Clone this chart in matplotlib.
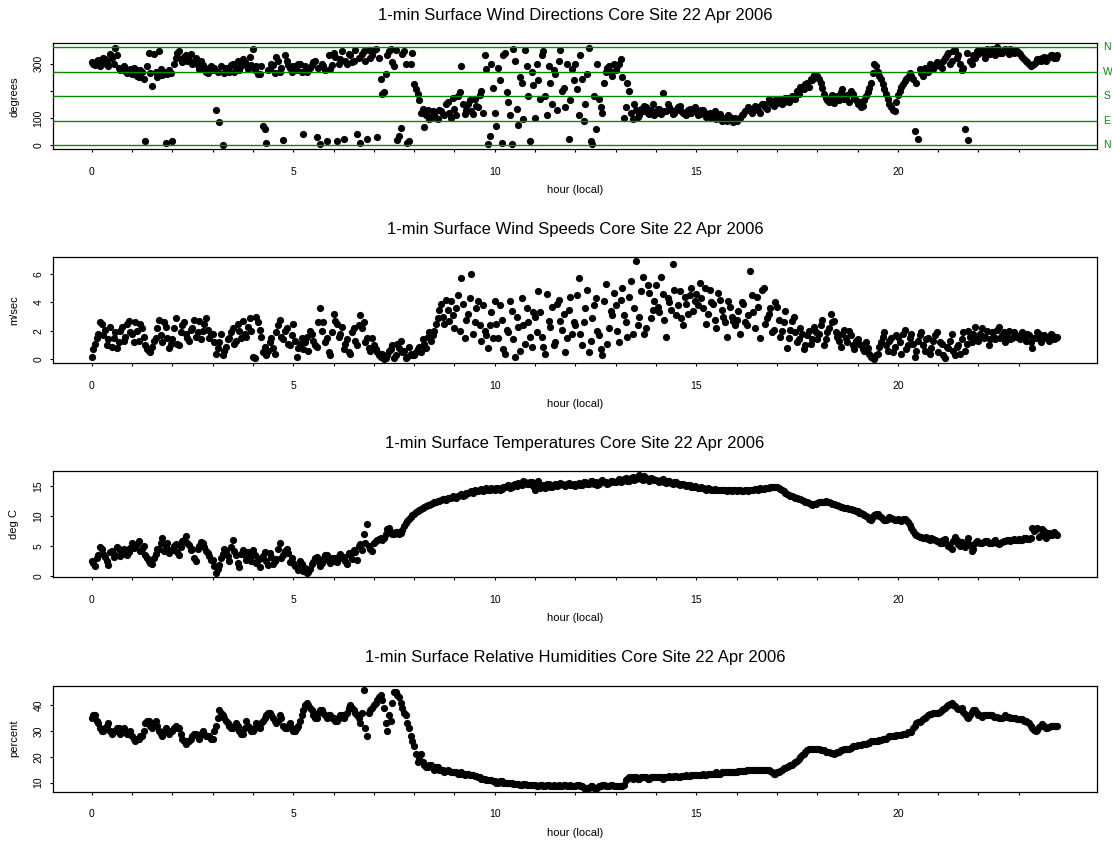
import numpy as np
import matplotlib
matplotlib.use('Agg')
import matplotlib.pyplot as plt

plt.rcParams['font.family'] = ['Liberation Sans', 'DejaVu Sans']

# values every 5 minutes, one row per hour (00:00 .. 23:55 local)
wind_dir = [
    305, 296, 312, 300, 316, 292, 322, 358, 285, 280, 272, 268,
    262, 280, 250, 270, 17, 340, 218, 270, 345, 258, 10, 275,
    15, 320, 345, 305, 330, 312, 300, 322, 280, 295, 270, 285,
    275, 130, 87, 0, 282, 268, 300, 285, 275, 318, 300, 325,
    355, 290, 262, 70, 8, 280, 295, 325, 270, 18, 310, 285,
    290, 275, 300, 41, 268, 285, 305, 30, 5, 290, 15, 280,
    340, 16, 315, 24, 300, 330, 310, 40, 10, 345, 25, 320,
    350, 30, 242, 196, 330, 355, 290, 20, 64, 345, 10, 300,
    225, 190, 120, 66, 130, 105, 118, 95, 125, 110, 160, 100,
    135, 180, 290, 115, 150, 125, 170, 140, 200, 330, 5, 300,
    120, 285, 10, 340, 160, 5, 310, 75, 230, 350, 180, 270,
    99, 240, 330, 180, 290, 150, 260, 310, 200, 140, 25, 280,
    300, 110, 245, 150, 356, 5, 60, 170, 120, 270, 290, 255,
    275, 300, 250, 140, 200, 95, 130, 110, 125, 140, 115, 150,
    120, 135, 193, 125, 140, 115, 130, 145, 120, 110, 135, 125,
    125, 115, 130, 105, 120, 110, 95, 115, 100, 90, 105, 85,
    90, 100, 115, 130, 135, 125, 140, 120, 150, 135, 160, 145,
    155, 170, 160, 175, 165, 180, 200, 215, 205, 230, 245, 258,
    255, 230, 190, 165, 175, 155, 180, 195, 170, 185, 200, 175,
    150, 140, 165, 195, 230, 300, 270, 245, 205, 170, 140, 125,
    185, 215, 235, 250, 255, 54, 24, 265, 285, 270, 295, 290,
    300, 285, 320, 340, 310, 350, 330, 275, 60, 20, 300, 320,
    335, 350, 320, 345, 355, 330, 345, 340, 355, 335, 345, 350,
    340, 325, 310, 300, 295, 305, 315, 320, 310, 325, 330, 322,
]
# the in-between readings (hh:02:30, hh:07:30, ...)
wind_dir_mid = [
    298, 310, 290, 320, 305, 335, 300, 330, 275, 290, 265, 280,
    285, 255, 275, 245, 290, 265, 335, 250, 280, 270, 260, 265,
    300, 340, 315, 325, 310, 335, 305, 295, 310, 280, 265, 290,
    285, 270, 290, 265, 280, 295, 270, 310, 290, 305, 280, 295,
    275, 260, 290, 60, 275, 300, 265, 310, 285, 330, 295, 270,
    280, 300, 270, 290, 275, 295, 310, 285, 300, 275, 330, 295,
    325, 300, 345, 310, 335, 305, 350, 320, 335, 310, 350, 330,
    355, 320, 188, 260, 345, 305, 350, 35, 335, 300, 15, 340,
    205, 165, 135, 110, 95, 125, 100, 130, 115, 150, 120, 175,
    110, 195, 150, 130, 165, 115, 145, 185, 120, 280, 35, 210,
    70, 240, 330, 195, 110, 355, 135, 250, 95, 290, 15, 220,
    300, 170, 345, 110, 230, 275, 130, 350, 210, 300, 165, 240,
    205, 330, 90, 260, 15, 180, 300, 140, 230, 285, 270, 300,
    290, 315, 100, 230, 120, 150, 105, 135, 145, 120, 130, 110,
    135, 115, 125, 150, 130, 120, 140, 125, 115, 130, 120, 140,
    110, 130, 120, 115, 100, 125, 110, 90, 95, 110, 95, 100,
    95, 110, 125, 140, 120, 145, 130, 150, 140, 170, 150, 165,
    165, 150, 175, 160, 180, 170, 190, 210, 225, 215, 240, 250,
    245, 210, 175, 160, 185, 170, 165, 205, 180, 160, 190, 165,
    160, 145, 180, 210, 265, 290, 255, 225, 190, 150, 130, 160,
    200, 225, 245, 265, 245, 230, 280, 255, 275, 300, 280, 305,
    290, 310, 330, 300, 345, 320, 300, 285, 340, 310, 330, 345,
    350, 340, 355, 335, 345, 360, 340, 350, 345, 355, 340, 345,
    335, 315, 305, 290, 300, 315, 310, 325, 315, 330, 320, 330,
]

wind_spd = [
    0.2, 1.1, 1.8, 2.5, 2.1, 1.4, 0.9, 1.9, 1.2, 2.3, 1.6, 2.7,
    1.8, 2.6, 1.3, 2.2, 1.0, 0.6, 0.9, 1.5, 2.8, 1.2, 2.3, 0.8,
    1.4, 2.9, 1.0, 2.4, 1.8, 1.3, 2.2, 1.6, 2.7, 2.0, 2.9, 1.5,
    1.8, 0.4, 1.2, 0.3, 0.9, 1.5, 2.2, 1.3, 2.0, 2.7, 1.6, 2.9,
    0.2, 3.0, 2.1, 0.5, 0.3, 1.2, 0.8, 1.9, 2.8, 1.4, 2.2, 1.0,
    2.5, 0.2, 1.1, 0.7, 1.6, 2.0, 1.3, 0.9, 3.6, 2.6, 1.5, 0.3,
    3.2, 2.5, 1.8, 0.7, 1.4, 0.4, 2.2, 1.0, 3.1, 2.6, 1.5, 0.6,
    1.0, 0.5, 0.2, 0.0, 0.3, 0.7, 0.1, 1.1, 1.3, 0.6, 0.2, 0.4,
    0.3, 0.7, 0.5, 1.1, 1.6, 1.3, 2.0, 2.9, 3.9, 2.5, 3.5, 4.1,
    2.2, 4.5, 5.7, 1.5, 3.2, 6.0, 2.6, 4.1, 1.3, 2.0, 0.8, 3.3,
    4.1, 1.5, 2.8, 0.4, 1.9, 3.4, 0.2, 2.3, 4.3, 1.1, 2.6, 0.9,
    3.0, 4.8, 1.6, 0.4, 2.7, 3.7, 1.2, 4.2, 2.1, 0.5, 3.5, 1.8,
    2.4, 5.7, 1.0, 3.6, 0.5, 2.9, 4.3, 1.7, 0.3, 5.3, 2.2, 3.1,
    3.8, 1.2, 5.0, 2.6, 4.4, 1.8, 6.9, 3.0, 5.8, 2.2, 4.7, 3.5,
    5.2, 3.3, 4.6, 1.6, 4.0, 6.7, 3.1, 4.8, 2.4, 3.9, 4.5, 3.4,
    4.6, 5.4, 3.6, 2.5, 4.9, 3.9, 2.2, 4.2, 3.0, 1.6, 3.7, 2.7,
    2.8, 1.8, 3.9, 2.4, 6.2, 3.3, 4.4, 1.5, 5.0, 2.9, 3.6, 2.1,
    3.7, 1.6, 2.6, 0.8, 2.1, 3.0, 1.2, 2.2, 0.7, 1.7, 1.1, 2.3,
    1.4, 2.4, 1.0, 1.9, 3.2, 2.7, 1.6, 0.9, 2.1, 1.2, 1.7, 0.7,
    1.4, 1.0, 0.6, 0.8, 0.2, 0.0, 0.4, 1.2, 1.9, 0.6, 1.5, 0.9,
    1.6, 0.4, 2.1, 1.0, 1.8, 0.2, 1.3, 1.9, 0.6, 1.5, 0.8, 1.7,
    0.5, 1.1, 0.1, 0.8, 1.8, 0.3, 1.0, 1.4, 0.6, 2.0, 1.2, 2.3,
    1.3, 2.2, 1.6, 1.0, 1.9, 1.4, 2.3, 1.7, 1.2, 2.0, 1.5, 1.8,
    1.6, 1.9, 1.3, 1.7, 0.8, 1.5, 1.8, 1.4, 1.6, 1.3, 1.7, 1.5,
]
wind_spd_mid = [
    0.7, 1.5, 2.6, 1.7, 1.0, 2.3, 1.5, 0.8, 2.0, 1.3, 2.5, 1.9,
    1.2, 2.0, 2.5, 1.6, 0.7, 0.5, 1.3, 2.2, 1.7, 2.6, 1.5, 1.1,
    2.2, 1.1, 1.9, 2.6, 1.5, 2.1, 2.8, 1.9, 1.4, 2.5, 2.1, 1.8,
    1.2, 0.8, 1.8, 0.6, 1.4, 1.9, 1.1, 2.5, 1.5, 1.8, 2.3, 2.0,
    0.1, 2.6, 1.6, 0.9, 0.6, 1.5, 0.4, 2.4, 1.6, 2.0, 1.1, 1.7,
    1.3, 0.8, 1.5, 1.2, 0.6, 1.8, 1.0, 2.6, 2.0, 1.2, 0.5, 1.9,
    2.7, 1.6, 2.3, 1.1, 0.5, 1.9, 1.3, 2.4, 2.2, 1.2, 0.8, 1.5,
    0.7, 0.3, 0.4, 0.1, 0.6, 1.0, 0.3, 0.8, 0.5, 0.1, 0.9, 0.3,
    0.5, 0.9, 1.4, 0.8, 1.9, 1.7, 2.5, 3.5, 3.0, 4.2, 2.7, 3.1,
    3.6, 2.0, 3.9, 2.8, 4.3, 1.8, 3.6, 2.4, 3.8, 1.7, 2.4, 1.5,
    2.5, 3.8, 0.7, 2.1, 4.1, 1.4, 3.0, 0.6, 2.4, 3.6, 1.6, 3.3,
    1.9, 3.3, 0.9, 4.6, 2.3, 1.0, 3.9, 2.7, 3.2, 1.5, 4.4, 2.6,
    4.5, 1.8, 2.6, 4.9, 1.3, 3.8, 2.0, 0.7, 4.1, 1.1, 3.4, 4.7,
    2.0, 4.2, 3.1, 1.6, 5.5, 3.6, 2.4, 4.8, 1.8, 5.2, 2.9, 4.1,
    3.7, 5.8, 2.8, 4.3, 3.5, 4.9, 3.8, 2.9, 4.4, 3.2, 5.0, 4.1,
    3.8, 4.3, 5.0, 3.2, 4.0, 2.8, 4.7, 3.5, 2.6, 4.1, 3.0, 2.4,
    3.4, 4.0, 2.6, 3.1, 4.5, 2.2, 3.7, 4.9, 2.5, 3.2, 1.9, 4.0,
    2.8, 2.0, 3.4, 1.5, 2.7, 1.9, 1.4, 1.8, 1.0, 2.0, 1.4, 1.9,
    1.8, 2.8, 1.4, 2.2, 2.6, 1.9, 1.3, 1.8, 1.5, 2.0, 1.0, 1.3,
    1.1, 0.7, 1.2, 0.4, 0.1, 0.3, 0.9, 1.6, 1.0, 1.3, 0.5, 1.7,
    1.2, 1.8, 0.7, 1.5, 1.1, 0.6, 1.7, 1.0, 1.4, 0.4, 1.3, 1.9,
    1.2, 0.3, 0.9, 1.3, 0.6, 0.9, 0.4, 1.9, 1.1, 1.6, 1.8, 1.4,
    1.8, 1.5, 2.0, 1.4, 1.6, 2.1, 1.5, 1.9, 1.6, 1.4, 1.9, 1.6,
    1.4, 1.6, 1.8, 1.2, 1.5, 1.9, 1.2, 1.7, 1.5, 1.8, 1.4, 1.6,
]

temp_c = [
    2.5, 1.8, 3.6, 4.5, 3.3, 1.9, 4.2, 3.5, 4.6, 3.8, 4.3, 4.0,
    5.5, 4.8, 5.9, 4.6, 3.5, 2.6, 2.0, 3.8, 4.5, 6.3, 5.0, 3.9,
    4.4, 5.3, 3.6, 5.8, 6.7, 5.2, 4.6, 2.6, 5.0, 5.5, 4.2, 3.4,
    2.8, 0.6, 1.9, 3.8, 4.2, 2.5, 6.0, 3.6, 1.6, 4.4, 2.7, 3.3,
    4.3, 2.2, 1.6, 3.4, 2.6, 3.9, 2.0, 2.9, 5.5, 3.6, 4.6, 2.4,
    2.2, 1.5, 2.6, 0.9, 0.5, 1.3, 2.4, 3.3, 1.8, 2.9, 3.6, 2.3,
    3.0, 2.4, 3.8, 3.3, 2.1, 3.6, 4.4, 2.8, 5.3, 7.0, 8.7, 4.5,
    5.6, 6.0, 6.3, 6.4, 7.9, 7.4, 7.1, 7.3, 7.2, 8.3, 9.2, 9.9,
    10.4, 10.9, 11.2, 11.5, 11.9, 12.0, 12.3, 12.5, 12.7, 12.8, 13.0, 13.1,
    13.2, 13.3, 13.6, 13.5, 13.9, 14.1, 14.3, 14.2, 14.5, 14.3, 14.4, 14.6,
    14.4, 14.7, 14.5, 14.9, 15.1, 14.8, 15.3, 15.5, 15.2, 15.7, 15.4, 15.6,
    14.3, 15.8, 15.0, 14.6, 15.3, 14.9, 15.4, 15.1, 15.3, 15.0, 15.5, 15.2,
    15.0, 15.5, 15.2, 15.7, 15.3, 15.9, 15.6, 15.4, 16.0, 15.7, 15.5, 15.9,
    15.6, 16.1, 15.8, 16.3, 15.9, 16.5, 16.2, 16.8, 16.0, 16.4, 15.9, 16.2,
    16.0, 15.7, 16.1, 15.5, 15.8, 15.4, 15.6, 15.2, 15.3, 15.0, 15.1, 14.9,
    14.8, 14.6, 14.7, 14.4, 14.5, 14.3, 14.4, 14.3, 14.4, 14.2, 14.3, 14.3,
    14.2, 14.3, 14.2, 14.3, 14.4, 14.3, 14.5, 14.6, 14.5, 14.7, 14.8, 14.9,
    14.8, 14.5, 14.1, 13.7, 13.4, 13.2, 13.0, 12.8, 12.6, 12.3, 12.1, 12.0,
    12.2, 12.4, 12.3, 12.4, 12.2, 12.0, 11.9, 11.6, 11.4, 11.3, 11.2, 11.0,
    10.8, 10.5, 10.2, 9.8, 9.4, 10.2, 10.4, 9.9, 9.3, 9.6, 9.7, 9.4,
    9.5, 9.2, 9.6, 9.0, 8.0, 7.0, 6.7, 6.5, 6.4, 6.2, 6.3, 6.0,
    5.9, 5.5, 6.2, 5.0, 4.6, 6.5, 5.3, 5.7, 4.8, 6.3, 4.2, 5.6,
    5.7, 5.6, 5.8, 5.5, 5.6, 6.0, 5.4, 5.7, 5.9, 6.1, 6.0, 6.1,
    6.2, 6.1, 6.3, 6.2, 8.0, 7.9, 6.6, 7.8, 6.4, 7.2, 6.9, 7.0,
]
temp_c_mid = [
    2.2, 3.0, 4.8, 3.7, 2.6, 4.1, 3.3, 4.9, 3.4, 4.5, 3.6, 4.7,
    4.7, 5.3, 4.2, 5.0, 3.0, 2.2, 3.0, 4.6, 5.6, 4.2, 5.5, 4.4,
    5.1, 4.0, 4.9, 6.1, 5.5, 4.3, 3.0, 4.5, 5.7, 4.8, 3.9, 2.7,
    1.8, 1.2, 3.1, 4.6, 3.4, 4.9, 4.2, 2.3, 3.8, 3.5, 4.1, 2.5,
    3.5, 2.8, 3.0, 4.1, 1.9, 3.3, 2.5, 4.6, 3.1, 4.2, 3.9, 3.0,
    1.8, 1.1, 2.0, 1.4, 0.8, 2.0, 3.0, 2.6, 2.3, 3.5, 2.5, 3.0,
    2.6, 3.4, 3.1, 2.5, 3.9, 2.9, 4.1, 5.0, 4.3, 5.6, 5.0, 4.2,
    5.8, 6.2, 6.1, 7.0, 8.1, 7.0, 7.4, 7.0, 7.7, 8.8, 9.6, 10.2,
    10.7, 11.0, 11.4, 11.7, 11.8, 12.2, 12.4, 12.6, 12.9, 12.7, 13.1, 13.3,
    13.0, 13.5, 13.4, 13.8, 14.0, 13.9, 14.2, 14.4, 14.2, 14.6, 14.3, 14.5,
    14.6, 14.3, 14.8, 15.0, 14.7, 15.2, 15.0, 15.4, 15.8, 15.3, 15.6, 15.0,
    15.5, 14.6, 15.2, 15.4, 14.8, 15.2, 15.0, 15.5, 15.1, 15.4, 15.2, 15.4,
    15.3, 15.1, 15.6, 15.4, 15.8, 15.4, 15.2, 15.8, 15.6, 15.4, 15.8, 15.6,
    15.9, 15.7, 16.1, 15.9, 16.4, 16.0, 16.5, 16.2, 16.6, 16.1, 16.3, 16.0,
    15.8, 16.0, 15.6, 15.9, 15.5, 15.7, 15.3, 15.4, 15.1, 15.2, 14.9, 15.0,
    14.7, 14.8, 14.5, 14.6, 14.4, 14.5, 14.3, 14.4, 14.3, 14.3, 14.2, 14.4,
    14.3, 14.2, 14.4, 14.2, 14.3, 14.5, 14.4, 14.5, 14.7, 14.6, 14.8, 14.9,
    14.7, 14.3, 13.9, 13.5, 13.3, 13.1, 12.9, 12.7, 12.4, 12.2, 11.9, 12.1,
    12.3, 12.3, 12.5, 12.3, 12.1, 11.9, 11.7, 11.5, 11.3, 11.2, 11.1, 10.9,
    10.6, 10.3, 10.0, 9.6, 9.8, 10.4, 10.1, 9.6, 9.4, 9.8, 9.5, 9.3,
    9.3, 9.5, 9.3, 8.6, 7.5, 6.8, 6.6, 6.3, 6.5, 6.1, 6.2, 5.8,
    5.6, 6.0, 5.3, 4.8, 5.8, 6.1, 5.0, 5.4, 5.7, 5.2, 4.6, 5.9,
    5.5, 5.7, 5.9, 5.6, 5.8, 5.5, 5.6, 5.9, 6.0, 5.9, 6.2, 6.0,
    6.1, 6.3, 6.2, 6.4, 7.5, 8.1, 6.9, 7.5, 6.7, 6.8, 7.3, 6.9,
]

rel_hum = [
    35, 36, 33, 30, 31, 33, 29, 30, 31, 30, 30, 29,
    28, 26, 27, 28, 33, 34, 31, 34, 30, 28, 31, 29,
    30, 32, 31, 27, 25, 26, 28, 29, 27, 30, 28, 28,
    27, 32, 38, 36, 34, 32, 31, 33, 30, 29, 34, 31,
    30, 33, 31, 34, 36, 37, 35, 33, 36, 32, 31, 33,
    30, 31, 34, 38, 41, 39, 36, 35, 38, 37, 35, 36,
    35, 34, 36, 35, 37, 40, 38, 36, 33, 46, 28, 38,
    40, 42, 44, 39, 30, 34, 45, 44, 41, 37, 33, 28,
    24, 18, 21, 17, 16, 17, 15, 16, 15, 14, 15, 14,
    14, 13.5, 14, 13, 13.5, 13, 12.5, 12, 11.5, 11.5, 11, 11,
    10.5, 10, 10.5, 10, 10, 10, 9.5, 9.5, 9, 9.5, 9, 9,
    9, 8.5, 9, 8.5, 9, 8.5, 8.5, 9, 8.5, 9, 8.5, 8.5,
    8.5, 9, 8.5, 8, 8, 8.5, 8, 8.5, 9, 8.5, 8.5, 9,
    8.5, 8.5, 8.5, 11, 12, 11.5, 12, 11.5, 12, 12, 11.5, 12,
    12, 12, 11.5, 12, 12.5, 12, 12.5, 12, 12.5, 13, 12.5, 13,
    13, 13, 13.5, 13, 13.5, 13.5, 14, 13.5, 14, 14, 14, 14,
    14, 14.5, 14.5, 15, 15, 15, 15, 15, 15, 15, 14.5, 13.5,
    14, 14.5, 15.5, 16, 17, 17.5, 18.5, 20, 21, 22.5, 23, 23,
    23, 22.5, 22.5, 22, 21.5, 21, 22, 22.5, 23, 23, 23.5, 24,
    24.5, 24.5, 25, 25.5, 26, 26, 26, 26.5, 27, 27.5, 28, 28,
    28.5, 28.5, 29, 29.5, 29.5, 32, 33.5, 34, 35, 36, 36.5, 37,
    37, 38, 39, 40, 41, 39.5, 38.5, 39, 36.5, 35, 37.5, 38,
    36, 35.5, 36, 36, 36, 35.5, 35, 35, 36, 35.5, 35, 35,
    34.5, 34.5, 34, 33, 31, 30, 31.5, 32.5, 31, 31.5, 32, 32,
]
rel_hum_mid = [
    36, 34, 31, 30, 32, 30, 30, 31, 29, 31, 29, 30,
    27, 27, 28, 30, 34, 32, 33, 32, 29, 30, 30, 30,
    31, 31, 29, 26, 26, 27, 29, 28, 29, 29, 28, 27,
    30, 35, 37, 35, 33, 31, 32, 32, 29, 31, 32, 30,
    31, 32, 33, 35, 37, 36, 34, 34, 35, 31, 32, 31,
    30, 32, 36, 40, 40, 38, 35, 37, 38, 36, 36, 35,
    34, 35, 36, 36, 39, 39, 37, 35, 37, 31, 37, 39,
    41, 43, 42, 33, 36, 41, 45, 43, 39, 36, 31, 26,
    21, 19, 18, 16, 17, 16, 16, 15, 15, 14.5, 14.5, 14,
    14, 13.5, 13.5, 13.5, 13, 13, 12.5, 12, 11.5, 11, 11, 10.5,
    10, 10.5, 10, 10, 10, 9.5, 9.5, 9, 9.5, 9, 9, 9,
    8.5, 9, 8.5, 9, 8.5, 9, 8.5, 8.5, 9, 8.5, 9, 8.5,
    9, 8.5, 8, 8, 8.5, 8, 8, 8.5, 9, 8.5, 9, 8.5,
    8.5, 8.5, 9, 11.5, 12, 12, 11.5, 12, 12, 11.5, 12, 12,
    12, 12, 12, 12, 12, 12.5, 12, 12.5, 12.5, 12.5, 13, 13,
    13, 13, 13, 13.5, 13.5, 13.5, 13.5, 14, 14, 14, 14, 14,
    14.5, 14.5, 14.5, 15, 15, 15, 15, 15, 15, 15, 14, 13.5,
    14, 15, 15.5, 16.5, 17, 18, 19, 20.5, 22, 23, 23, 23,
    23, 22.5, 22, 22, 21.5, 21.5, 22, 22.5, 23, 23, 24, 24,
    24.5, 25, 25, 25.5, 26, 26, 26.5, 27, 27, 28, 28, 28.5,
    28.5, 29, 29, 29.5, 31, 33, 33.5, 34.5, 35.5, 36.5, 37, 37,
    37.5, 38.5, 39.5, 40.5, 40, 39, 38.5, 37.5, 35.5, 36, 38, 37,
    36, 36, 36, 36, 35.5, 35.5, 35, 35.5, 35.5, 35, 35, 34.5,
    34.5, 34, 33.5, 32, 30.5, 30.5, 32, 32, 31, 32, 32, 32,
]

hours = np.arange(len(wind_dir)) / 12.0
hours_mid = hours + 2.5 / 60

titles = [
    '1-min Surface Wind Directions Core Site 22 Apr 2006',
    '1-min Surface Wind Speeds Core Site 22 Apr 2006',
    '1-min Surface Temperatures Core Site 22 Apr 2006',
    '1-min Surface Relative Humidities Core Site 22 Apr 2006',
]
ylabels = ['degrees', 'm/sec', 'deg C', 'percent']
yticks = [[0, 100, 200, 300], [0, 2, 4, 6], [0, 5, 10, 15], [10, 20, 30, 40]]
yticklabels = [['0', '100', '', '300'], ['0', '2', '4', '6'],
               ['0', '5', '10', '15'], ['10', '20', '30', '40']]
compass_deg = [0, 90, 180, 270, 360]
compass_lbl = ['N', 'E', 'S', 'W', 'N']
GREEN = '#008B00'

W, H = 1112, 843
fig = plt.figure(figsize=(W / 100, H / 100), dpi=100)

box_left, box_right, box_h = 53, 1097, 106
box_bottoms = [149.3, 363.3, 577.3, 791.7]


def draw_panel(ax, t, y, title, ylabel, ticks, ticklabels):
    ax.plot(t, y, 'o', color='k', ms=5.2, mew=0)
    lo, hi = min(y), max(y)
    pad = 0.04 * (hi - lo)
    ax.set_ylim(lo - pad, hi + pad)
    ax.set_xlim(-0.96, 24.94)

    ax.set_xticks(range(24))
    ax.set_xticklabels([str(h) if h % 5 == 0 else '' for h in range(24)])
    ax.set_yticks(ticks)
    ax.set_yticklabels(ticklabels)
    ax.tick_params(axis='x', length=2.5, width=0.8, pad=10.3, labelsize=7.5)
    ax.tick_params(axis='y', length=2.5, width=0.8, pad=4.5, labelsize=7.5,
                   labelrotation=90)
    for lab in ax.get_yticklabels():
        lab.set_va('center')
    for s in ax.spines.values():
        s.set_linewidth(0.9)

    ax.text(0.5, 1 + 28 / box_h, title, transform=ax.transAxes,
            ha='center', va='center', fontsize=12)
    ax.text(0.5, -41 / box_h, 'hour (local)', transform=ax.transAxes,
            ha='center', va='center', fontsize=8)
    ax.text(-39 / (box_right - box_left), 0.5, ylabel, transform=ax.transAxes,
            ha='center', va='center', rotation=90, fontsize=8)


t_all = np.concatenate([hours, hours_mid])
series = [
    wind_dir + wind_dir_mid,
    wind_spd + wind_spd_mid,
    temp_c + temp_c_mid,
    rel_hum + rel_hum_mid,
]
axes = []
for i in range(4):
    ax = fig.add_axes([box_left / W, 1 - box_bottoms[i] / H,
                       (box_right - box_left) / W, box_h / H])
    draw_panel(ax, t_all, series[i], titles[i], ylabels[i], yticks[i], yticklabels[i])
    axes.append(ax)

# compass reference lines on the direction panel
ax = axes[0]
for d, lbl in zip(compass_deg, compass_lbl):
    ax.axhline(d, color=GREEN, lw=1.0, zorder=3)
    ax.text(1.006, d, lbl, transform=ax.get_yaxis_transform(), color=GREEN,
            ha='left', va='center', fontsize=7.5, clip_on=False)

fig.savefig('out.png', dpi=100)
